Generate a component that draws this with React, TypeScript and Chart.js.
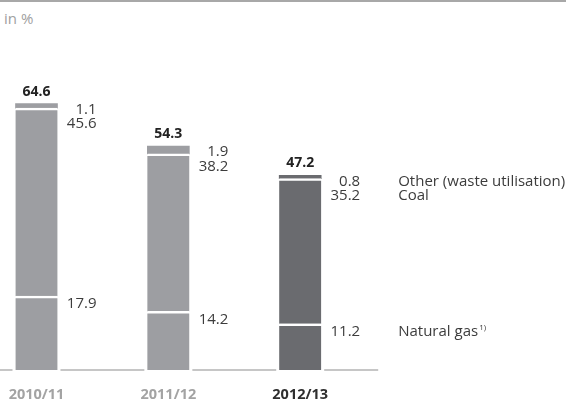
import React, { useEffect, useRef } from "react";
import { Chart, registerables } from "chart.js";

Chart.register(...registerables);

const categories = ["2010/11", "2011/12", "2012/13"];
const naturalGas = [17.9, 14.2, 11.2];
const coal = [45.6, 38.2, 35.2];
const other = [1.1, 1.9, 0.8];
const totals = [64.6, 54.3, 47.2];
const seriesNames = ["Natural gas", "Coal", "Other (waste utilisation)"];
const footnote = "1)";
const unitLabel = "in %";

const barColors = ["#9d9ea2", "#9d9ea2", "#6a6b6f"];
const categoryColors = ["#a3a3a3", "#a3a3a3", "#2e2e2e"];
const FONT = "'Open Sans', 'Noto Sans', sans-serif";

const annotate = {
  id: "annotate",
  beforeDatasetsDraw(chart: any) {
    const ctx = chart.ctx;
    const bars = chart.getDatasetMeta(0).data;
    const y = chart.chartArea.bottom;
    ctx.save();
    ctx.strokeStyle = "#b3b3b3";
    ctx.lineWidth = 1.5;
    let start = 0;
    bars.forEach((b: any) => {
      const left = b.x - b.width / 2 - 3;
      ctx.beginPath();
      ctx.moveTo(start, y);
      ctx.lineTo(left, y);
      ctx.stroke();
      start = b.x + b.width / 2 + 3;
    });
    const last = bars[bars.length - 1];
    ctx.beginPath();
    ctx.moveTo(start, y);
    ctx.lineTo(last.x + last.width / 2 + 57, y);
    ctx.stroke();
    ctx.restore();
  },
  afterDatasetsDraw(chart: any) {
    const ctx = chart.ctx;
    const gasBars = chart.getDatasetMeta(0).data;
    const otherBars = chart.getDatasetMeta(2).data;
    ctx.save();
    ctx.textBaseline = "middle";
    categories.forEach((_, i) => {
      const gb = gasBars[i];
      const ob = otherBars[i];
      const top = ob.y;
      const right = ob.x + ob.width / 2;
      ctx.font = `bold 14px ${FONT}`;
      ctx.fillStyle = "#222222";
      ctx.textAlign = "center";
      ctx.fillText(totals[i].toFixed(1), ob.x, top - 12);
      ctx.font = `15px ${FONT}`;
      ctx.fillStyle = "#3c3c3c";
      ctx.textAlign = "right";
      ctx.fillText(other[i].toFixed(1), right + 39, top + 6);
      ctx.fillText(coal[i].toFixed(1), right + 39, top + 20.5);
      ctx.fillText(naturalGas[i].toFixed(1), right + 39, gb.y + 8);
      if (i === categories.length - 1) {
        const lx = right + 77;
        ctx.textAlign = "left";
        ctx.fillText(seriesNames[2], lx, top + 6);
        ctx.fillText(seriesNames[1], lx, top + 20.5);
        ctx.fillText(seriesNames[0], lx, gb.y + 8);
        const w = ctx.measureText(seriesNames[0]).width;
        ctx.font = `8px ${FONT}`;
        ctx.fillText(footnote, lx + w + 1, gb.y + 4);
      }
    });
    ctx.restore();
  },
};

export default function App() {
  const ref = useRef<HTMLCanvasElement>(null);
  useEffect(() => {
    if (!ref.current) return;
    const common = {
      barThickness: 42,
      borderColor: "#ffffff",
      borderSkipped: false,
      clip: false,
      backgroundColor: barColors,
    };
    const chart = new Chart(ref.current, {
      type: "bar",
      data: {
        labels: categories,
        datasets: [
          { ...common, label: seriesNames[0], data: naturalGas, borderWidth: { top: 2.5, bottom: 0, left: 0, right: 0 } },
          { ...common, label: seriesNames[1], data: coal, borderWidth: { top: 2.5, bottom: 0, left: 0, right: 0 } },
          { ...common, label: seriesNames[2], data: other, borderWidth: 0 },
        ] as any,
      },
      options: {
        animation: false,
        responsive: false,
        devicePixelRatio: 1,
        layout: { padding: { left: 36.5, right: 265.8, top: 40, bottom: 0 } },
        plugins: { legend: { display: false }, tooltip: { enabled: false }, title: { display: false } },
        scales: {
          x: {
            type: "category",
            offset: false,
            stacked: true,
            grid: { display: false, drawTicks: false },
            border: { display: false },
            ticks: {
              padding: 16,
              autoSkip: false,
              maxRotation: 0,
              font: { family: FONT, size: 14.5, weight: "bold" },
              color: (c: any) => categoryColors[c.index],
            },
            afterFit: (scale: any) => {
              scale.paddingLeft = 0;
              scale.paddingRight = 0;
              scale.height = 33;
            },
          },
          y: { display: false, stacked: true, min: 0, max: 80 },
        },
      },
      plugins: [annotate],
    } as any);
    return () => chart.destroy();
  }, []);
  return (
    <div style={{ position: "absolute", left: 0, top: 0, width: 566, height: 403, background: "#fff", overflow: "hidden" }}>
      <div style={{ position: "absolute", left: 0, top: 0, width: 566, height: 2, background: "#a8a8a8" }} />
      <div
        style={{
          position: "absolute",
          left: 4,
          top: 8,
          fontFamily: FONT,
          fontSize: 15,
          color: "#a0a0a0",
          lineHeight: "20px",
          whiteSpace: "nowrap",
        }}
      >
        {unitLabel}
      </div>
      <canvas ref={ref} width={566} height={403} style={{ position: "absolute", left: 0, top: 0 }} />
    </div>
  );
}
